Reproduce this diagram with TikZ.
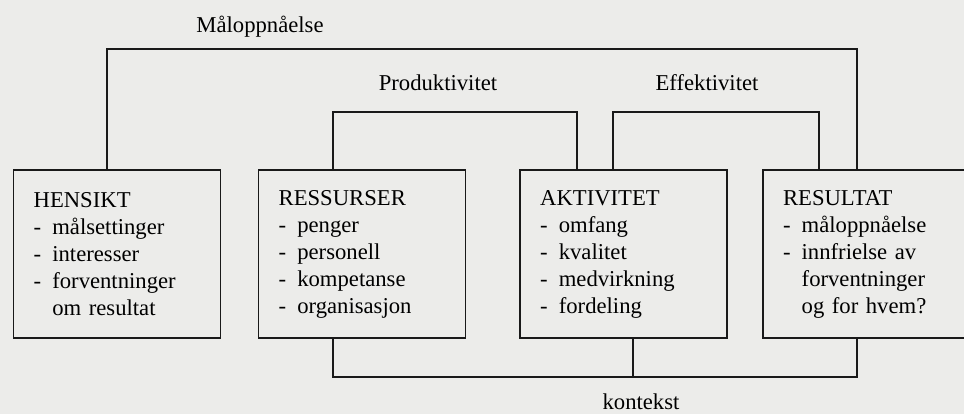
\documentclass[tikz,border=0pt]{standalone}
\usepackage{fontspec}
\setmainfont{Liberation Serif}
\usetikzlibrary{calc}
\definecolor{paper}{RGB}{236,236,234}
\definecolor{ink}{RGB}{25,25,25}
\newcommand{\pkt}{\makebox[14pt][l]{-}}
\newcommand{\inn}{\hspace*{14pt}}

\begin{document}
\begin{tikzpicture}[x=0.75pt,y=-0.75pt,
    boks/.style={draw=ink,line width=1.2pt,minimum height=126pt,text width=125pt,
      inner xsep=15pt,align=left,font=\fontsize{17}{20.25}\selectfont},
    lbl/.style={anchor=base,inner sep=0pt,font=\fontsize{17}{20}\selectfont},
    linje/.style={draw=ink,line width=1.2pt}]
    \useasboundingbox (0,0) rectangle (964,414);
    \fill[paper] (0,0) rectangle (964,414);

    \node[boks] (hensikt) at (117,254) {HENSIKT\\ \pkt målsettinger\\ \pkt interesser\\ \pkt forventninger\\ \inn om resultat};
    \node[boks] (ressurser) at (362,254) {RESSURSER\\ \pkt penger\\ \pkt personell\\ \pkt kompetanse\\ \pkt organisasjon};
    \node[boks] (aktivitet) at (623.5,254) {AKTIVITET\\ \pkt omfang\\ \pkt kvalitet\\ \pkt medvirkning\\ \pkt fordeling};
    \node[boks,text width=130pt] (resultat) at (869.7,254) {RESULTAT\\ \pkt måloppnåelse\\ \pkt innfrielse av\\ \inn forventninger\\ \inn og for hvem?};

    % forbindelser
    \draw[linje] ($(hensikt.north)+(-10,0)$) -- ++(0,-120) -| ($(resultat.north)+(-12.7,0)$);
    \draw[linje] ($(ressurser.north)+(-29,0)$) -- ++(0,-57) -| ($(aktivitet.north)+(-46.5,0)$);
    \draw[linje] ($(aktivitet.north)+(-10.5,0)$) -- ++(0,-57) -| ($(resultat.north)+(-50.7,0)$);
    \draw[linje] ($(ressurser.south)+(-29,0)$) -- ++(0,38) -| ($(resultat.south)+(-12.7,0)$);
    \draw[linje] ($(aktivitet.south)+(9.5,0)$) -- ++(0,38);

    \node[lbl] (maal) at (260,32) {Måloppnåelse};
    \node[lbl] (prod) at (438,90) {Produktivitet};
    \node[lbl] (eff) at (707,90) {Effektivitet};
    \node[lbl] (kont) at (641,409) {kontekst};
\end{tikzpicture}
\end{document}
